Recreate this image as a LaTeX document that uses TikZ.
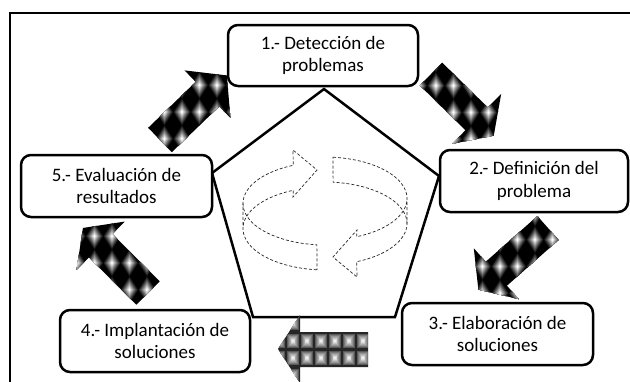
\documentclass[tikz,border=0pt]{standalone}
\usepackage{fontspec}
\setmainfont{Carlito}
% block arrow with diamond pattern:
% x, y (tail centre), angle, length, shaft width, head width, head length, grid anchor x, grid anchor y
\newcommand{\blockarrow}[9]{%
  \begin{scope}[shift={(#1,#2)}, rotate=#3]
    \coordinate (q1) at (0,{-#5/2});
    \coordinate (q2) at ({#4-#7},{-#5/2});
    \coordinate (q3) at ({#4-#7},{-#6/2});
    \coordinate (q4) at (#4,0);
    \coordinate (q5) at ({#4-#7},{#6/2});
    \coordinate (q6) at ({#4-#7},{#5/2});
    \coordinate (q7) at (0,{#5/2});
  \end{scope}
  \begin{scope}
    \clip (q1) -- (q2) -- (q3) -- (q4) -- (q5) -- (q6) -- (q7) -- cycle;
    \fill[black] ({#8-90},{#9-90}) rectangle ({#8+90},{#9+90});
    \foreach \i in {-4,...,4}{
      \foreach \j in {-3,...,3}{
        \foreach \k in {1,...,10}{
          \pgfmathsetmacro\ff{1-\k/11}
          \pgfmathtruncatemacro\cc{100*(\k/10)^1.1}
          \fill[white!\cc!black]
            ({#8+17.5*\i-9.6*\ff},{#9+26.8*\j}) -- ({#8+17.5*\i},{#9+26.8*\j-15*\ff})
            -- ({#8+17.5*\i+9.6*\ff},{#9+26.8*\j}) -- ({#8+17.5*\i},{#9+26.8*\j+15*\ff}) -- cycle;
        }
      }
    }
  \end{scope}%
}
\begin{document}
\begin{tikzpicture}[x=1pt,y=-1pt,
  stage/.style={draw=black, line width=2.5pt, rounded corners=10pt, fill=white,
    inner sep=0pt, align=center, font=\fontsize{19}{22.5}\selectfont},
  cdash/.style={draw=black!85, line width=0.7pt, dash pattern=on 3pt off 2pt}]
\useasboundingbox (0,0) rectangle (630,381);
\clip (0,0) rectangle (630,381);
\fill[white] (0,0) rectangle (630,381);
% outer frame
\draw[line width=2pt] (10,12.5) rectangle (700,500);

% pentagon
\draw[line width=2.5pt, line join=miter] (324,89) -- (439,176) -- (395,317) -- (253,317) -- (212,173) -- cycle;

% central circular arrows
\begin{scope}
\draw[cdash] plot[domain=-84:0,samples=25] ({324.5+82.5*cos(\x)},{198.5+41.5*sin(\x)})
  -- plot[domain=0:67,samples=25] ({324.5+82.5*cos(\x)},{223.5+41.5*sin(\x)})
  -- (357,277) -- (333,257) -- (357,230)
  -- plot[domain=67:0,samples=25] ({324.5+82.5*cos(\x)},{198.5+41.5*sin(\x)});
\draw[cdash] plot[domain=0:-84,samples=25] ({324.5+82.5*cos(\x)},{223.5+41.5*sin(\x)}) -- (333,157.2);
\end{scope}
\begin{scope}[rotate around={180:(325,213.5)}]
\draw[cdash] plot[domain=-84:0,samples=25] ({324.5+82.5*cos(\x)},{198.5+41.5*sin(\x)})
  -- plot[domain=0:67,samples=25] ({324.5+82.5*cos(\x)},{223.5+41.5*sin(\x)})
  -- (357,277) -- (333,257) -- (357,230)
  -- plot[domain=67:0,samples=25] ({324.5+82.5*cos(\x)},{198.5+41.5*sin(\x)});
\draw[cdash] plot[domain=0:-84,samples=25] ({324.5+82.5*cos(\x)},{223.5+41.5*sin(\x)}) -- (333,157.2);
\end{scope}

% stage boxes
\node[stage, minimum width=190pt, minimum height=61pt] (b1) at (323,55.5) {1.- Detección de\\problemas};
\node[stage, minimum width=188pt, minimum height=62pt] (b2) at (534,181) {2.- Definición del\\problema};
\node[stage, minimum width=191pt, minimum height=62pt] (b3) at (497.5,334) {3.- Elaboración de\\soluciones};
\node[stage, minimum width=190pt, minimum height=62pt] (b4) at (155,341) {4.- Implantación de\\soluciones};
\node[stage, minimum width=191pt, minimum height=62pt] (b5) at (116.5,186) {5.- Evaluación de\\resultados};

% patterned block arrows
\blockarrow{160}{140}{44}{93}{34}{66}{27}{199.5}{112}
\blockarrow{431}{74}{-44.5}{88}{32}{70}{24}{471}{112.5}
\blockarrow{548}{228}{221.5}{93}{32}{68}{24}{517.5}{266.5}
\blockarrow{148}{293}{135}{92}{33}{68}{25}{112}{263}

% square-patterned arrow (3 -> 4)
\begin{scope}
  \clip (368,332) -- (300,332) -- (300,315) -- (278,349) -- (300,383) -- (300,367) -- (368,367) -- cycle;
  \fill[black!85] (270,310) rectangle (370,390);
  \foreach \i in {-2,...,4}{
    \foreach \j in {-1,...,2}{
      \foreach \k in {1,...,7}{
        \pgfmathsetmacro\ff{1-\k/8}
        \pgfmathtruncatemacro\cc{20+75*(\k/7)^0.8}
        \fill[white!\cc!black]
          ({307+14*\i-6.5*\ff},{340.75+17.5*\j-8*\ff}) rectangle
          ({307+14*\i+6.5*\ff},{340.75+17.5*\j+8*\ff});
      }
    }
  }
\end{scope}
\end{tikzpicture}
\end{document}
